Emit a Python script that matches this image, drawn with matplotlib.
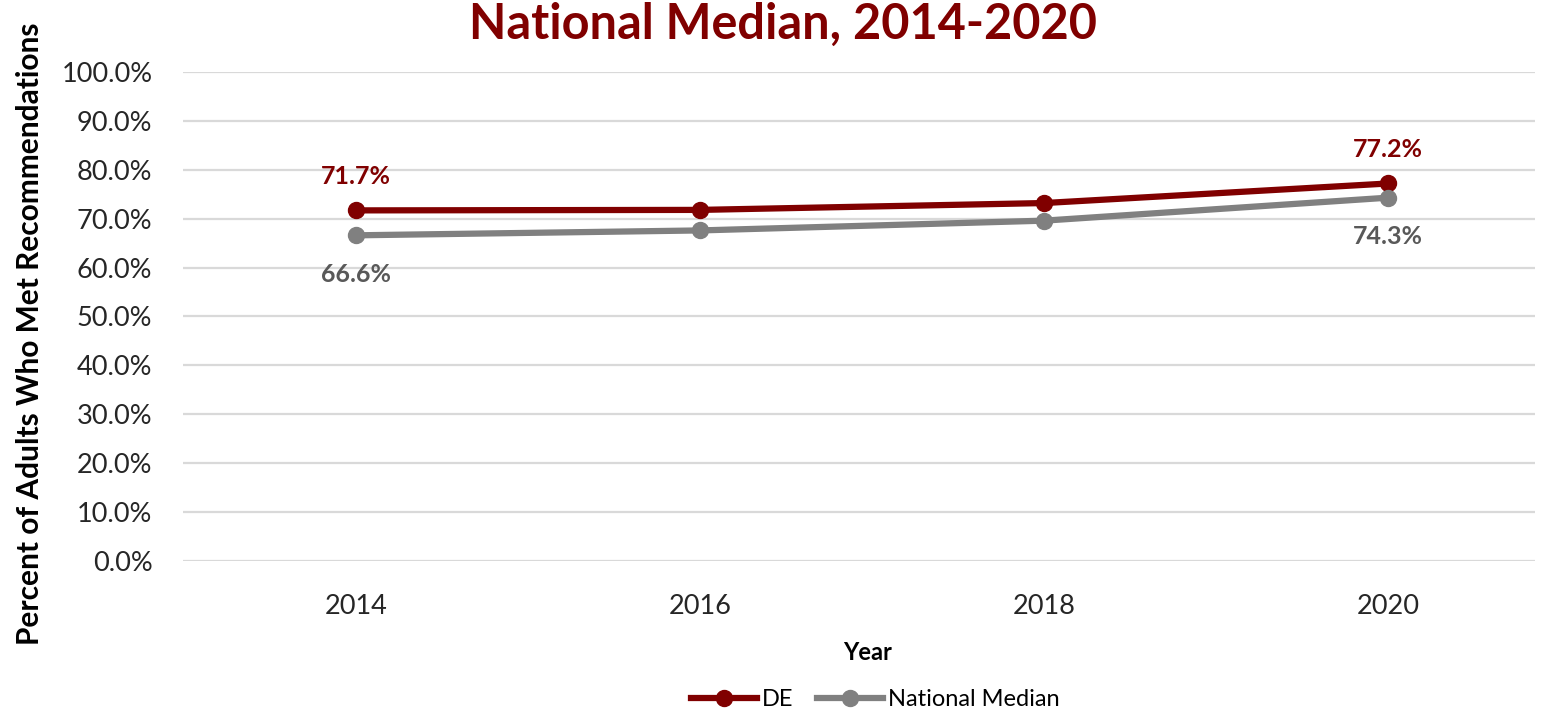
import matplotlib
matplotlib.use("Agg")
import matplotlib.pyplot as plt
from matplotlib.ticker import FuncFormatter

years = ["2014", "2016", "2018", "2020"]
de_values = [71.7, 71.8, 73.2, 77.2]
national_values = [66.6, 67.6, 69.6, 74.3]
yticks = [0, 10, 20, 30, 40, 50, 60, 70, 80, 90, 100]

DE_COLOR = "#800000"
NAT_COLOR = "#808080"
FONT = ["Lato", "DejaVu Sans"]
plt.rcParams["font.family"] = FONT

fig = plt.figure(figsize=(15.49, 7.12), dpi=100)
W, H = 1549, 712
left, right, top, bottom = 183, 1535, 72, 561
ax = fig.add_axes([left / W, 1 - bottom / H, (right - left) / W, (bottom - top) / H])

x = list(range(len(years)))
ax.plot(x, de_values, color=DE_COLOR, lw=4.5, marker="o", ms=11.5, label="DE", zorder=3)
ax.plot(x, national_values, color=NAT_COLOR, lw=4.5, marker="o", ms=11.5, label="National Median", zorder=3)

ax.set_ylim(0, 100)
ax.set_yticks(yticks)
ax.yaxis.set_major_formatter(FuncFormatter(lambda v, p: f"{v:.1f}%"))
ax.set_xticks(x)
ax.set_xticklabels(years)
ax.set_xlim((left - 356) / 344, (right - 356) / 344)
ax.grid(axis="y", color="#D9D9D9", lw=1.6, zorder=0)
ax.set_axisbelow(True)
for s in ax.spines.values():
    s.set_visible(False)
ax.tick_params(axis="both", length=0, labelsize=19.5, labelcolor="#262626")
ax.tick_params(axis="y", pad=22)
ax.tick_params(axis="x", pad=24)

# data labels at first and last points
for i in (0, len(years) - 1):
    ax.annotate(f"{de_values[i]:.1f}%", (x[i], de_values[i]), xytext=(0, 16), textcoords="offset points",
                ha="center", va="bottom", color=DE_COLOR, fontsize=18, fontweight="bold")
    ax.annotate(f"{national_values[i]:.1f}%", (x[i], national_values[i]), xytext=(0, -20), textcoords="offset points",
                ha="center", va="top", color="#595959", fontsize=18, fontweight="bold")

fig.text(783 / W, 1 - 24 / H, "National Median, 2014-2020", ha="center", va="center",
         color=DE_COLOR, fontsize=35, fontweight="bold")
fig.text(868 / W, 1 - 652 / H, "Year", ha="center", va="center", fontsize=17, fontweight="bold")
fig.text(30 / W, 1 - 645 / H, "Percent of Adults Who Met Recommendations", ha="center", va="bottom",
         rotation=90, fontsize=21.5, fontweight="bold")

leg = fig.legend(loc="center", bbox_to_anchor=(875 / W, 1 - 700 / H), ncol=2, frameon=False,
                 fontsize=17, handlelength=2.8, columnspacing=1.0, handletextpad=0.2)

fig.savefig("out.png", dpi=100)
